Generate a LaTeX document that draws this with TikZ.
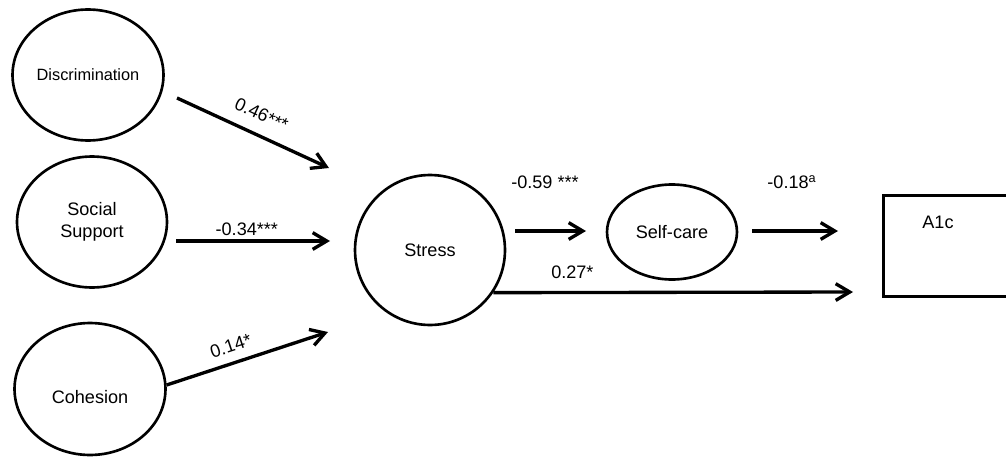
\documentclass[tikz,border=0pt]{standalone}
\usepackage{fontspec}
\setmainfont{Liberation Sans}
\usepackage{tikz}
\usetikzlibrary{arrows.meta}
\usetikzlibrary{shapes,positioning}

\begin{document}
\begin{tikzpicture}[x=0.02cm,y=-0.02cm,
    >={Straight Barb[length=8pt,width=9.5pt]},
    latent/.style={ellipse,draw,line width=1.5pt,inner sep=0pt,font=\fontsize{10.3}{12.5}\selectfont,align=center},
    effect/.style={->,line width=1.9pt},
    coef/.style={font=\fontsize{10.3}{12}\selectfont,inner sep=2pt}]
  \clip (0,0) rectangle (1006,456);
  %%% predictors
  \node[latent,minimum width=3.02cm,minimum height=2.62cm,font=\fontsize{9.3}{11}\selectfont] (disc) at (88,75) {Discrimination};
  \node[latent,minimum width=3.0cm,minimum height=2.62cm] (supp) at (92,222) {Social\\Support};
  \node[latent,minimum width=3.02cm,minimum height=2.64cm,label={[coef,yshift=-0.17cm]center:Cohesion}] (coh) at (90,389) {};
  %%% mediators
  \node[latent,circle,minimum size=3.0cm] (stress) at (430,250) {Stress};
  \node[latent,minimum width=2.6cm,minimum height=1.9cm] (self) at (672,232) {Self-care};
  %%% outcome
  \node[rectangle,draw,line width=1.8pt,anchor=north west,minimum width=3cm,minimum height=2.02cm] (a1c) at (882,194) {};
  \node[coef] (a1c_text) at (938,222) {A1c};
  %%% free ends
  \coordinate (disc_o) at (177,98);
  \coordinate (disc_i) at (329,168);
  \coordinate (supp_o) at (176,241);
  \coordinate (supp_i) at (330,241);
  \coordinate (coh_i) at (328,332);
  \coordinate (stress_o) at (515,231);
  \coordinate (stress_i) at (586,231);
  \coordinate (self_o) at (752,231);
  \coordinate (self_i) at (838,231);
  \coordinate (a1c_i) at (853,292);
  \begin{scope}[effect]
    \draw (disc_o) -- node[coef,sloped,above=5pt,pos=.5] (b_disc) {0.46***} (disc_i);
    \draw (supp_o) -- node[coef,above,pos=.46] (b_supp) {-0.34***} (supp_i);
    \draw (coh.3) -- node[coef,sloped,above=3pt,pos=.43] (b_coh) {0.14*} (coh_i);
    \draw (stress_o) -- (stress_i);
    \draw (self_o) -- (self_i);
    \draw (stress.-34) -- node[coef,above=5pt,pos=.22] (b_direct) {0.27*} (a1c_i);
  \end{scope}
  \node[coef] (b_stress) at (545,182) {-0.59 ***};
  \node[coef] (b_self) at (792,182) {-0.18\textsuperscript{a}};
\end{tikzpicture}
\end{document}
